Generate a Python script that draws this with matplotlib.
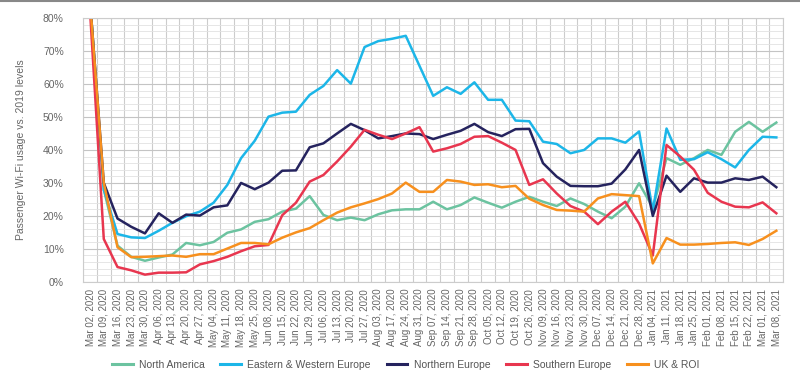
import matplotlib
matplotlib.use("Agg")
import matplotlib.pyplot as plt
from matplotlib.ticker import MultipleLocator, FuncFormatter

plt.rcParams["font.family"] = ["Liberation Sans", "DejaVu Sans"]

# weekly labels as printed on the chart
weeks = [
    "Mar 02, 2020", "Mar 09, 2020", "Mar 16, 2020", "Mar 23, 2020", "Mar 30, 2020",
    "Apr 06, 2020", "Apr 13, 2020", "Apr 20, 2020", "Apr 27, 2020", "May 04, 2020",
    "May 11, 2020", "May 18, 2020", "May 25, 2020", "Jun 08, 2020", "Jun 15, 2020",
    "Jun 22, 2020", "Jun 29, 2020", "Jul 06, 2020", "Jul 13, 2020", "Jul 20, 2020",
    "Jul 27, 2020", "Aug 03, 2020", "Aug 17, 2020", "Aug 24, 2020", "Aug 31, 2020",
    "Sep 07, 2020", "Sep 14, 2020", "Sep 21, 2020", "Sep 28, 2020", "Oct 05, 2020",
    "Oct 12, 2020", "Oct 19, 2020", "Oct 26, 2020", "Nov 09, 2020", "Nov 16, 2020",
    "Nov 23, 2020", "Nov 30, 2020", "Dec 07, 2020", "Dec 14, 2020", "Dec 21, 2020",
    "Dec 28, 2020", "Jan 04, 2021", "Jan 11, 2021", "Jan 18, 2021", "Jan 25, 2021",
    "Feb 01, 2021", "Feb 08, 2021", "Feb 15, 2021", "Feb 22, 2021", "Mar 01, 2021",
    "Mar 08, 2021",
]

north_america = [85, 28, 11, 7.6, 6.4, 7.4, 8.3, 11.8, 11.1, 12.1,
                 14.9, 15.9, 18.2, 19.0, 21.3, 22.2, 26.0, 20.3, 18.7, 19.5,
                 18.7, 20.5, 21.7, 22, 22, 24.3, 22, 23.3, 25.6, 24.0,
                 22.5, 24.3, 25.8, 24.3, 23.0, 25.3, 23.6, 21.3, 19.3, 22.8,
                 29.9, 22.5, 37.5, 35.5, 37.5, 40.0, 38.5, 45.5, 48.5, 45.5,
                 48.3]
east_west_europe = [85, 28, 14.5, 13.5, 13.3, 15.5, 17.9, 19.9, 21.3, 24.0,
                    29.4, 37.5, 42.8, 50.1, 51.3, 51.6, 56.7, 59.4, 64.2, 60.1,
                    71.2, 73.0, 73.7, 74.6, 65.5, 56.4, 59.0, 57.0, 60.5, 55.2,
                    55.2, 48.9, 48.7, 42.5, 41.8, 39.0, 40.0, 43.5, 43.5, 42.2,
                    45.6, 21.5, 46.5, 37.0, 37.2, 39.3, 37.2, 34.7, 40.0, 44.0,
                    43.8]
northern_europe = [85, 30, 19.2, 16.7, 14.7, 20.8, 17.9, 20.4, 20.1, 22.6,
                   23.2, 30.0, 28.1, 30.1, 33.7, 33.8, 40.8, 42.0, 45.0, 47.9,
                   46.0, 43.5, 44.2, 45.0, 44.8, 43.3, 44.6, 45.8, 47.9, 45.4,
                   44.2, 46.3, 46.4, 36.0, 31.9, 29.1, 29.0, 29.0, 29.8, 34.1,
                   40.0, 20.0, 32.2, 27.3, 31.4, 30.1, 30.1, 31.4, 30.9, 31.9,
                   28.7]
southern_europe = [82, 13, 4.5, 3.5, 2.2, 2.8, 2.8, 2.9, 5.3, 6.3,
                   7.6, 9.3, 10.8, 11.2, 20.2, 24.0, 30.4, 32.4, 36.5, 41.0,
                   46.1, 44.6, 43.3, 45.0, 46.9, 39.5, 40.5, 41.8, 44.0, 44.2,
                   42.2, 40.0, 29.4, 31.1, 26.8, 23.0, 21.3, 17.5, 21.3, 24.3,
                   17.7, 8.0, 41.5, 38.0, 34.0, 27.0, 24.3, 22.8, 22.6, 24.1,
                   20.8]
uk_roi = [85, 30, 10.5, 7.5, 7.6, 7.8, 8.0, 7.6, 8.4, 8.4,
          10.1, 11.8, 11.8, 11.4, 13.4, 15.0, 16.3, 18.7, 21.0, 22.6,
          23.8, 25.1, 26.8, 30.1, 27.3, 27.3, 30.9, 30.4, 29.4, 29.6,
          28.7, 29.1, 25.2, 23.3, 21.8, 21.6, 21.3, 25.3, 26.6, 26.3,
          26.0, 5.6, 13.3, 11.3, 11.3, 11.5, 11.8, 12.0, 11.2, 13.0,
          15.5]

series = [
    ("North America", north_america, "#6cc3a0"),
    ("Eastern & Western Europe", east_west_europe, "#1cb6e8"),
    ("Northern Europe", northern_europe, "#25235e"),
    ("Southern Europe", southern_europe, "#e8364f"),
    ("UK & ROI", uk_roi, "#f7901e"),
]

fig = plt.figure(figsize=(8, 3.83), dpi=100)
ax = fig.add_axes([0.104, 0.264, 0.875, 0.689])

x = list(range(len(weeks)))
for name, vals, col in series:
    ax.plot(x, vals, color=col, lw=1.8, label=name)

ax.set_xlim(-0.5, len(weeks) - 0.5)
ax.set_ylim(0, 80)
ax.set_xticks(x)
ax.set_xticklabels(weeks, rotation=90, fontsize=7, color="#666666")
ax.set_xticks([i + 0.5 for i in range(-1, len(weeks))], minor=True)
ax.yaxis.set_major_locator(MultipleLocator(10))
ax.yaxis.set_minor_locator(MultipleLocator(2))
ax.yaxis.set_major_formatter(FuncFormatter(lambda v, p: f"{v:.0f}%"))
ax.tick_params(axis="y", labelsize=7.5, colors="#666666", length=0, pad=14)
ax.tick_params(axis="x", which="both", length=0, pad=5)
ax.tick_params(axis="y", which="minor", length=0)

ax.grid(True, axis="x", which="minor", color="#cccccc", lw=0.8)
ax.grid(True, axis="y", which="major", color="#c4c4c4", lw=0.8)
ax.grid(True, axis="y", which="minor", color="#e2e2e2", lw=0.6)
ax.set_axisbelow(True)
for s in ax.spines.values():
    s.set_color("#cccccc")
    s.set_linewidth(0.8)

ax.set_ylabel("Passenger Wi-Fi usage vs. 2019 levels", fontsize=7.5, color="#666666", labelpad=12)

leg = fig.legend(loc="center", bbox_to_anchor=(0.507, 0.047), ncol=5, frameon=False,
                 fontsize=7.5, handlelength=2.0, handletextpad=0.6, columnspacing=1.5,
                 labelcolor="#555555")
for h in leg.get_lines():
    h.set_linewidth(2.2)

fig.add_artist(plt.Line2D([0, 1], [0.997, 0.997], color="#888888", lw=1.5))

fig.savefig("out.png", dpi=100)
